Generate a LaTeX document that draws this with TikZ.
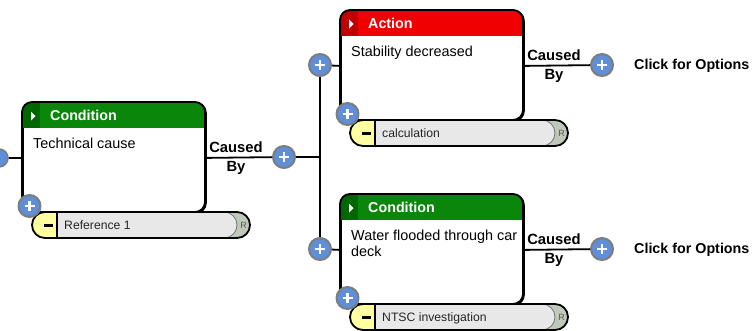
\documentclass[tikz,border=0pt]{standalone}
\usepackage{fontspec}
\setmainfont{Liberation Sans}
\definecolor{cgreen}{RGB}{10,134,10}
\definecolor{cgreendk}{RGB}{0,102,0}
\definecolor{cred}{RGB}{240,0,0}
\definecolor{creddk}{RGB}{192,0,0}
\definecolor{pblue}{RGB}{94,143,216}
\definecolor{pgray}{RGB}{125,125,125}
\definecolor{barfill}{RGB}{232,232,232}
\definecolor{byellow}{RGB}{255,255,160}
\definecolor{rcap}{RGB}{192,200,186}
\tikzset{
  conn/.style={line width=1.8pt, black},
  plusc/.style={circle, fill=pblue, draw=pgray, line width=2pt, minimum size=22pt, inner sep=0pt,
    path picture={\draw[white, line width=2.4pt] (path picture bounding box.center) ++(-5pt,0) -- ++(10pt,0)
      (path picture bounding box.center) ++(0,-5pt) -- ++(0,10pt);}},
  cardbody/.style={draw, fill=white, line width=1.8pt, rounded corners=10pt, minimum width=183pt,
    minimum height=110pt, inner sep=0pt, anchor=north west},
  titletext/.style={font=\bfseries\fontsize{14.3}{16}\selectfont, text=white, anchor=base west, inner sep=0pt},
  bodytext/.style={font=\fontsize{14.4}{16.5}\selectfont, anchor=north west, inner sep=0pt, align=left},
  reftext/.style={font=\fontsize{12.2}{14}\selectfont, anchor=base west, inner sep=0pt, text=black!85},
  rtext/.style={font=\fontsize{9}{10}\selectfont, text=black!65, inner sep=0pt},
  cblabel/.style={font=\bfseries\fontsize{14.8}{16}\selectfont, anchor=base, inner sep=0pt},
  optlabel/.style={font=\bfseries\fontsize{14.3}{16}\selectfont, anchor=base west, inner sep=0pt},
}
\newcommand\mycard[8]{%
  \begin{scope}[shift={(#2,#3)}]
    \node[cardbody] (#1) at (0,0) {};
    \begin{scope}
      \clip[rounded corners=10pt] (0,0) rectangle (183,110);
      \fill[#4] (0,0) rectangle (183,26);
      \fill[#5] (0,0) rectangle (18,26);
    \end{scope}
    \draw[rounded corners=10pt, line width=1.8pt] (0,0) rectangle (183,110);
    \fill[white] (9,9.5) -- (13.5,14) -- (9,18.5) -- cycle;
    \node[titletext] (#1title) at (28,18.5) {#6};
    \node[bodytext] (#1text) at (11,35.5) {#7};
    % reference bar
    \fill[rcap, rounded corners=13pt] (10,110) rectangle (228,136);
    \draw[fill=barfill, draw=black!55, line width=0.8pt, rounded corners=13pt] (10,110) rectangle (215,136);
    \begin{scope}
      \clip[rounded corners=13pt] (10,110) rectangle (228,136);
      \fill[byellow] (0,100) rectangle (35,140);
    \end{scope}
    \draw[line width=1.4pt] (35,110) -- (35,136);
    \draw[rounded corners=13pt, line width=1.8pt] (10,110) rectangle (228,136);
    \fill (22,121.5) rectangle (30.5,124.5);
    \node[reftext] (#1ref) at (42,127.5) {#8};
    \node[rtext] (#1r) at (221.5,123) {R};
    \node[plusc] (#1plus) at (7.5,104) {};
  \end{scope}
}
\begin{document}
\begin{tikzpicture}[x=1pt, y=-1pt, line join=round]
  \useasboundingbox (0,0) rectangle (752,330);
  % cards
  \mycard{L}{22}{102}{cgreen}{cgreendk}{Condition}{Technical cause}{Reference 1}
  \mycard{T}{340}{10}{cred}{creddk}{Action}{Stability decreased}{calculation}
  \mycard{B}{340}{194}{cgreen}{cgreendk}{Condition}{Water flooded through car\\deck}{NTSC investigation}
  % left stub circle
  \node[circle, fill=pblue, draw=pgray, line width=1.5pt, minimum size=18pt, inner sep=0pt] (lc) at (-1,158) {};
  % plus circles
  \node[plusc] (pm) at (284,157) {};
  \node[plusc] (pt) at (320,65) {};
  \node[plusc] (pb) at (320,249) {};
  \node[plusc] (pr1) at (602,65) {};
  \node[plusc] (pr2) at (602,249) {};
  \coordinate (jn) at (320,157);
  % connectors
  \draw[conn] (lc) -- (L.west);
  \draw[conn] (L.east) -- (pm);
  \draw[conn] (pm) -- (jn);
  \draw[conn] (pt) -- (pb);
  \draw[conn] (pt) -- (T.west);
  \draw[conn] (pb) -- (B.west);
  \draw[conn] (T.east) -- (pr1);
  \draw[conn] (B.east) -- (pr2);
  % labels
  \node[cblabel] (c1) at (236,152) {Caused};
  \node[cblabel] (b1) at (236,171) {By};
  \node[cblabel] (c2) at (554,60) {Caused};
  \node[cblabel] (b2) at (554,79) {By};
  \node[cblabel] (c3) at (554,244) {Caused};
  \node[cblabel] (b3) at (554,263) {By};
  \node[optlabel] (o1) at (634,69.5) {Click for Options};
  \node[optlabel] (o2) at (634,253.5) {Click for Options};
\end{tikzpicture}
\end{document}
